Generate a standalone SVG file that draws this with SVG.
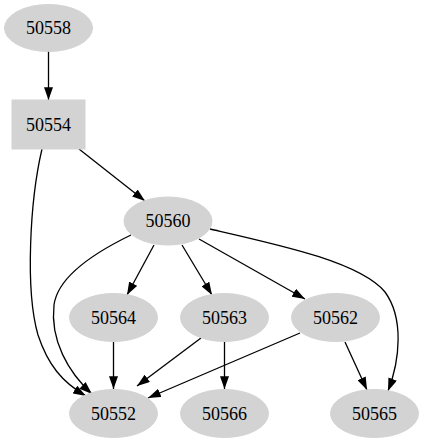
<svg xmlns="http://www.w3.org/2000/svg" width="424" height="443" viewBox="0 0 424 443">
<style>
.n{fill:#d3d3d3;stroke:#d3d3d3;stroke-width:1}
.t{font-family:"Liberation Serif","Times New Roman",serif;font-size:18px;fill:#000;text-anchor:middle}
.e{fill:none;stroke:#000;stroke-width:1.3}
</style>
<defs>
<marker id="ah" viewBox="0 0 10 7" refX="10" refY="3.5" markerUnits="userSpaceOnUse" markerWidth="13" markerHeight="9" orient="auto">
<path d="M0,0 L10,3.5 L0,7 z" fill="#000"/>
</marker>
</defs>
<rect width="424" height="443" fill="#fff"/>
<g id="edges">
<path class="e" marker-end="url(#ah)" d="M48.5,51 L48.5,100"/>
<path class="e" marker-end="url(#ah)" d="M79,149 L145,201"/>
<path class="e" marker-end="url(#ah)" d="M42,149 C30,200 25,290 38,335 C48,365 62,382 86,396"/>
<path class="e" marker-end="url(#ah)" d="M131,235 C100,250 58,275 54,305 C50,340 68,372 92,394"/>
<path class="e" marker-end="url(#ah)" d="M154,245 L127,295"/>
<path class="e" marker-end="url(#ah)" d="M182,245 L212,295"/>
<path class="e" marker-end="url(#ah)" d="M199,239 L305,299"/>
<path class="e" marker-end="url(#ah)" d="M210,229 C280,245 360,262 385,292 C404,318 400,360 388,391"/>
<path class="e" marker-end="url(#ah)" d="M113.5,342 L113.5,389"/>
<path class="e" marker-end="url(#ah)" d="M201,338 L137,386"/>
<path class="e" marker-end="url(#ah)" d="M224.5,342 L224.5,389"/>
<path class="e" marker-end="url(#ah)" d="M300,333 L148,398"/>
<path class="e" marker-end="url(#ah)" d="M345,342 L367,390"/>
</g>
<g id="n50558"><ellipse class="n" cx="48.5" cy="28" rx="44" ry="23.5"/><text class="t" x="48.5" y="34">50558</text></g>
<g id="n50554"><rect class="n" x="12" y="100" width="73" height="49"/><text class="t" x="48.5" y="131">50554</text></g>
<g id="n50560"><ellipse class="n" cx="168" cy="221" rx="44" ry="24"/><text class="t" x="168" y="227">50560</text></g>
<g id="n50564"><ellipse class="n" cx="113.5" cy="317.5" rx="44" ry="24"/><text class="t" x="113.5" y="323.5">50564</text></g>
<g id="n50563"><ellipse class="n" cx="224.5" cy="317.5" rx="44" ry="24"/><text class="t" x="224.5" y="323.5">50563</text></g>
<g id="n50562"><ellipse class="n" cx="335.5" cy="317.5" rx="44" ry="24"/><text class="t" x="335.5" y="323.5">50562</text></g>
<g id="n50552"><ellipse class="n" cx="113.5" cy="413.5" rx="44" ry="24"/><text class="t" x="113.5" y="419.5">50552</text></g>
<g id="n50566"><ellipse class="n" cx="224.5" cy="413.5" rx="44" ry="24"/><text class="t" x="224.5" y="419.5">50566</text></g>
<g id="n50565"><ellipse class="n" cx="374.5" cy="413.5" rx="44" ry="24"/><text class="t" x="374.5" y="419.5">50565</text></g>
</svg>
